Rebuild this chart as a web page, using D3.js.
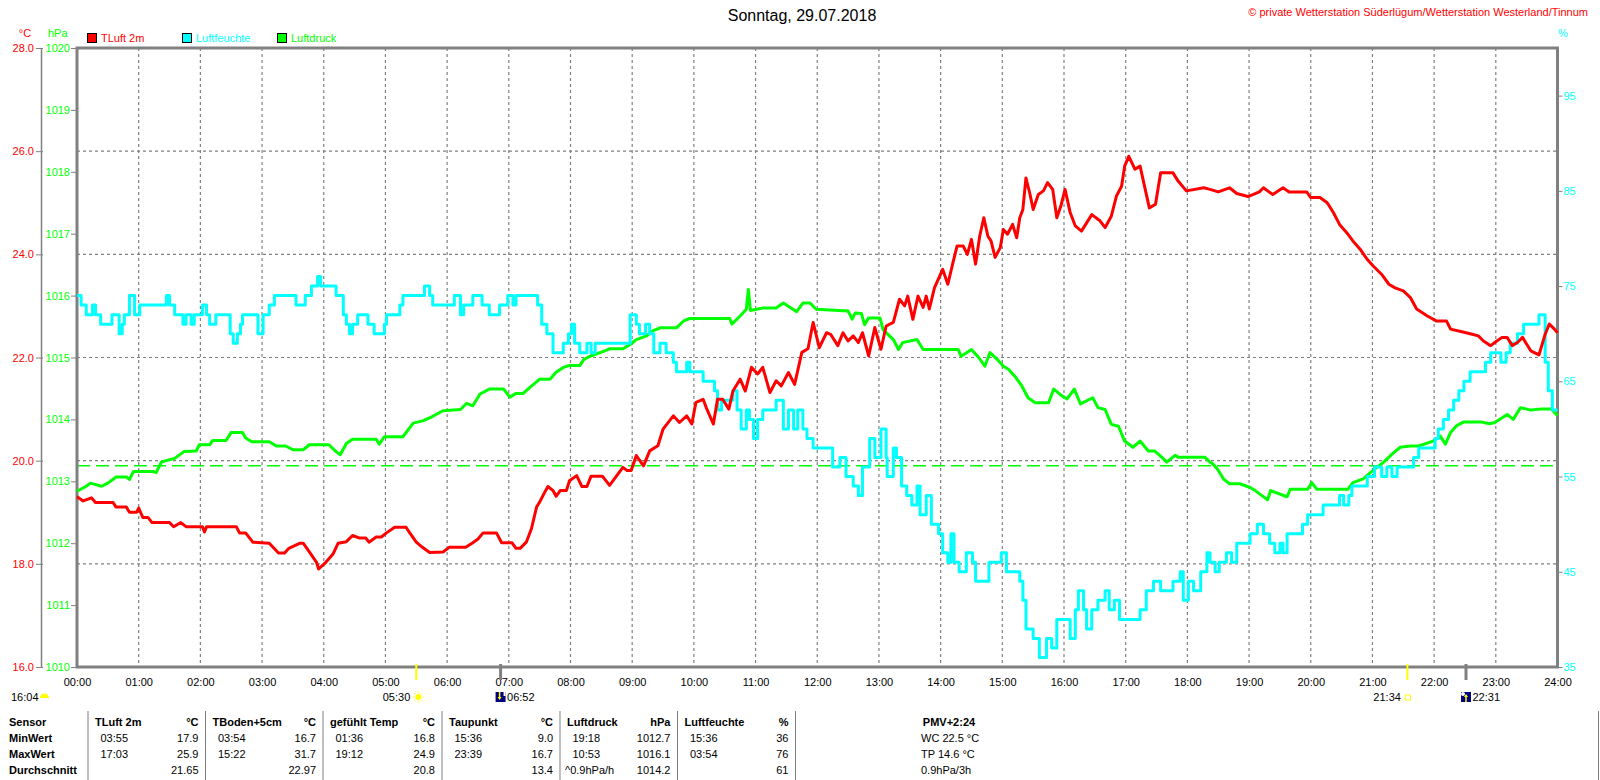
<!DOCTYPE html>
<html>
<head>
<meta charset="utf-8">
<script src="https://cdn.jsdelivr.net/npm/d3@7"></script>
<style>
body { margin: 0; background: #fff; }
text { font-family: "Liberation Sans", Arial, sans-serif; }
</style>
</head>
<body>
<main></main>
<script>
// ---- data ----
var title = "Sonntag, 29.07.2018";
var copyright = "\u00a9 private Wetterstation S\u00fcderl\u00fcgum/Wetterstation Westerland/Tinnum";

var hourTicks = ["00:00","01:00","02:00","03:00","04:00","05:00","06:00","07:00","08:00","09:00","10:00","11:00","12:00",
  "13:00","14:00","15:00","16:00","17:00","18:00","19:00","20:00","21:00","22:00","23:00","24:00"];
var tempTicks = [16, 18, 20, 22, 24, 26, 28];
var pressTicks = [1010, 1011, 1012, 1013, 1014, 1015, 1016, 1017, 1018, 1019, 1020];
var humTicks = [35, 45, 55, 65, 75, 85, 95];
var normalPressure = 1013.25;

var legendItems = ["TLuft 2m", "Luftfeuchte", "Luftdruck"];

// TLuft 2m (°C)
var temperature = [["00:00",19.30],["00:06",19.22],["00:14",19.28],["00:18",19.19],["00:35",19.19],["00:38",19.10],["00:48",19.10],["00:51",19.00],["00:58",19.00],["01:00",19.08],["01:04",18.90],["01:09",18.90],["01:13",18.80],["01:30",18.80],["01:34",18.72],["01:41",18.80],["01:46",18.72],["02:02",18.72],["02:04",18.62],["02:06",18.72],["02:35",18.72],["02:38",18.60],["02:44",18.60],["02:51",18.42],["03:07",18.40],["03:16",18.21],["03:22",18.21],["03:26",18.30],["03:37",18.40],["03:40",18.40],["03:46",18.23],["03:53",18.03],["03:55",17.90],["04:02",18.03],["04:09",18.19],["04:14",18.40],["04:22",18.43],["04:28",18.55],["04:35",18.50],["04:41",18.50],["04:44",18.42],["04:51",18.52],["04:56",18.52],["05:01",18.60],["05:09",18.71],["05:20",18.71],["05:23",18.62],["05:30",18.42],["05:36",18.32],["05:43",18.22],["05:56",18.23],["06:02",18.32],["06:18",18.32],["06:25",18.41],["06:30",18.48],["06:35",18.60],["06:48",18.60],["06:53",18.41],["07:03",18.41],["07:07",18.30],["07:11",18.30],["07:17",18.42],["07:22",18.68],["07:27",19.10],["07:30",19.20],["07:35",19.39],["07:38",19.50],["07:43",19.42],["07:46",19.31],["07:50",19.42],["07:56",19.42],["07:59",19.61],["08:06",19.71],["08:11",19.50],["08:16",19.50],["08:20",19.70],["08:31",19.70],["08:38",19.52],["08:45",19.71],["08:51",19.87],["08:55",19.81],["08:59",19.81],["09:04",20.10],["09:11",19.90],["09:17",20.19],["09:25",20.29],["09:30",20.61],["09:40",20.87],["09:46",20.74],["09:53",20.87],["09:58",20.71],["10:02",21.13],["10:09",21.19],["10:12",21.03],["10:19",20.71],["10:23",21.19],["10:28",21.19],["10:34",21.00],["10:38",21.35],["10:45",21.58],["10:50",21.35],["10:56",21.81],["11:02",21.68],["11:07",21.81],["11:14",21.32],["11:20",21.55],["11:25",21.45],["11:32",21.71],["11:38",21.48],["11:45",22.10],["11:51",22.17],["11:56",22.68],["12:02",22.19],["12:09",22.48],["12:13",22.45],["12:20",22.23],["12:25",22.48],["12:30",22.32],["12:35",22.42],["12:40",22.29],["12:44",22.48],["12:50",22.03],["12:56",22.58],["13:02",22.16],["13:07",22.61],["13:14",22.68],["13:20",23.13],["13:25",23.00],["13:28",23.19],["13:33",22.74],["13:38",23.19],["13:43",22.97],["13:46",23.19],["13:49",22.94],["13:54",23.35],["14:02",23.71],["14:07",23.42],["14:12",23.84],["14:16",24.16],["14:22",24.16],["14:26",24.00],["14:30",24.29],["14:34",23.81],["14:38",24.35],["14:42",24.71],["14:46",24.35],["14:49",24.26],["14:53",23.94],["14:58",24.13],["15:01",24.48],["15:05",24.39],["15:10",24.58],["15:14",24.32],["15:17",24.71],["15:20",24.87],["15:23",25.48],["15:27",25.16],["15:30",24.87],["15:35",25.16],["15:40",25.23],["15:44",25.39],["15:49",25.26],["15:53",24.71],["15:57",24.94],["16:01",25.26],["16:06",24.81],["16:11",24.55],["16:17",24.45],["16:22",24.61],["16:27",24.77],["16:35",24.65],["16:40",24.52],["16:46",24.74],["16:51",25.13],["16:56",25.32],["16:59",25.71],["17:03",25.90],["17:09",25.65],["17:14",25.71],["17:19",25.26],["17:23",24.90],["17:29",24.97],["17:34",25.58],["17:46",25.58],["17:51",25.42],["17:59",25.23],["18:16",25.29],["18:22",25.26],["18:30",25.21],["18:41",25.29],["18:48",25.18],["18:59",25.12],["19:10",25.21],["19:14",25.29],["19:23",25.16],["19:33",25.29],["19:39",25.21],["19:56",25.21],["20:00",25.10],["20:09",25.10],["20:16",25.00],["20:22",24.81],["20:28",24.58],["20:35",24.42],["20:41",24.26],["20:48",24.10],["20:55",23.90],["21:01",23.77],["21:09",23.61],["21:16",23.42],["21:22",23.35],["21:30",23.29],["21:37",23.16],["21:43",22.94],["21:53",22.81],["22:02",22.71],["22:12",22.71],["22:16",22.55],["22:27",22.50],["22:37",22.45],["22:43",22.42],["22:48",22.32],["22:55",22.23],["22:59",22.29],["23:06",22.39],["23:11",22.39],["23:16",22.23],["23:21",22.29],["23:26",22.39],["23:29",22.29],["23:34",22.13],["23:42",22.05],["23:48",22.45],["23:52",22.65],["23:57",22.55],["24:00",22.48]];

// Luftdruck (hPa)
var pressure = [["00:00",1012.84],["00:09",1012.92],["00:13",1012.97],["00:24",1012.92],["00:30",1012.97],["00:38",1013.07],["00:48",1013.07],["00:51",1013.03],["00:55",1013.16],["01:14",1013.16],["01:17",1013.14],["01:22",1013.31],["01:30",1013.35],["01:35",1013.37],["01:44",1013.48],["01:56",1013.49],["01:59",1013.59],["02:09",1013.59],["02:12",1013.66],["02:25",1013.66],["02:30",1013.79],["02:41",1013.79],["02:44",1013.70],["02:50",1013.64],["03:07",1013.64],["03:14",1013.57],["03:23",1013.57],["03:30",1013.51],["03:40",1013.51],["03:46",1013.59],["04:05",1013.59],["04:12",1013.48],["04:16",1013.43],["04:22",1013.61],["04:28",1013.68],["04:51",1013.68],["04:54",1013.60],["04:59",1013.72],["05:17",1013.72],["05:27",1013.94],["05:37",1013.98],["05:46",1014.05],["05:56",1014.14],["06:13",1014.16],["06:19",1014.26],["06:25",1014.22],["06:32",1014.41],["06:41",1014.49],["06:55",1014.49],["07:01",1014.36],["07:07",1014.42],["07:14",1014.42],["07:20",1014.51],["07:30",1014.65],["07:40",1014.65],["07:46",1014.76],["07:53",1014.84],["07:59",1014.87],["08:09",1014.87],["08:13",1014.97],["08:19",1015.02],["08:32",1015.10],["08:38",1015.14],["08:51",1015.14],["08:58",1015.21],["09:04",1015.29],["09:14",1015.35],["09:20",1015.43],["09:27",1015.48],["09:43",1015.48],["09:50",1015.59],["09:56",1015.63],["10:35",1015.63],["10:37",1015.54],["10:45",1015.67],["10:51",1015.78],["10:53",1016.10],["10:55",1015.76],["11:07",1015.80],["11:20",1015.80],["11:27",1015.88],["11:40",1015.74],["11:46",1015.88],["11:53",1015.88],["11:59",1015.78],["12:30",1015.75],["12:34",1015.62],["12:37",1015.72],["12:43",1015.71],["12:46",1015.53],["12:50",1015.64],["13:01",1015.64],["13:04",1015.45],["13:14",1015.29],["13:19",1015.13],["13:23",1015.24],["13:37",1015.29],["13:43",1015.13],["14:17",1015.13],["14:20",1015.02],["14:30",1015.13],["14:37",1015.00],["14:43",1014.86],["14:48",1015.08],["14:55",1014.97],["15:01",1014.86],["15:06",1014.81],["15:13",1014.68],["15:19",1014.54],["15:25",1014.35],["15:32",1014.27],["15:45",1014.27],["15:50",1014.49],["15:58",1014.38],["16:03",1014.33],["16:10",1014.49],["16:16",1014.25],["16:28",1014.35],["16:33",1014.19],["16:40",1014.16],["16:46",1013.92],["16:53",1013.89],["16:59",1013.65],["17:07",1013.55],["17:14",1013.65],["17:22",1013.49],["17:28",1013.49],["17:35",1013.39],["17:40",1013.31],["17:48",1013.42],["17:51",1013.39],["18:17",1013.39],["18:22",1013.31],["18:25",1013.28],["18:30",1013.18],["18:35",1013.04],["18:41",1012.96],["18:51",1012.96],["19:01",1012.90],["19:06",1012.85],["19:18",1012.70],["19:21",1012.85],["19:37",1012.75],["19:40",1012.87],["19:57",1012.87],["20:01",1012.98],["20:06",1012.87],["20:36",1012.87],["20:41",1012.98],["20:51",1013.04],["20:58",1013.14],["21:04",1013.22],["21:11",1013.31],["21:19",1013.44],["21:27",1013.55],["21:37",1013.57],["21:45",1013.57],["21:59",1013.65],["22:06",1013.73],["22:11",1013.60],["22:16",1013.79],["22:22",1013.90],["22:29",1013.96],["22:45",1013.96],["22:54",1013.93],["22:59",1013.95],["23:11",1014.08],["23:17",1014.00],["23:24",1014.19],["23:34",1014.15],["23:45",1014.17],["23:54",1014.17],["24:00",1014.06]];

// Luftfeuchte (%)
var humidity = [["00:00",74],["00:04",73],["00:09",72],["00:15",73],["00:18",72],["00:23",71],["00:32",71],["00:34",72],["00:38",72],["00:41",70],["00:44",71],["00:46",72],["00:51",74],["00:56",72],["01:01",73],["01:25",73],["01:27",74],["01:30",73],["01:35",72],["01:43",71],["01:46",72],["01:51",71],["01:54",72],["02:02",73],["02:06",72],["02:09",71],["02:15",72],["02:25",72],["02:29",70],["02:32",69],["02:36",70],["02:39",71],["02:41",72],["02:51",72],["02:56",70],["03:01",72],["03:07",73],["03:12",74],["03:30",74],["03:33",73],["03:39",73],["03:42",74],["03:48",75],["03:54",76],["03:57",75],["04:09",75],["04:12",74],["04:19",72],["04:22",71],["04:25",70],["04:28",71],["04:33",72],["04:40",72],["04:43",71],["04:49",70],["04:56",70],["04:59",71],["05:01",72],["05:10",72],["05:14",73],["05:17",74],["05:33",74],["05:38",75],["05:43",74],["05:46",73],["05:58",73],["06:07",74],["06:13",72],["06:16",73],["06:25",74],["06:34",73],["06:41",72],["06:51",73],["06:59",74],["07:04",73],["07:07",74],["07:25",74],["07:28",73],["07:32",71],["07:37",70],["07:43",68],["07:48",68],["07:53",69],["07:58",70],["08:01",71],["08:04",69],["08:09",68],["08:16",69],["08:20",68],["08:24",69],["08:55",69],["08:58",72],["09:04",71],["09:07",70],["09:13",71],["09:17",70],["09:21",68],["09:27",69],["09:33",68],["09:40",67],["09:43",66],["09:53",67],["09:56",66],["10:02",66],["10:09",65],["10:20",64],["10:23",62],["10:27",63],["10:35",63],["10:38",64],["10:42",62],["10:46",60],["10:51",62],["10:54",61],["10:58",59],["11:02",61],["11:07",62],["11:17",62],["11:20",63],["11:27",60],["11:32",62],["11:37",60],["11:41",62],["11:46",60],["11:50",59],["11:56",58],["12:12",58],["12:15",56],["12:22",57],["12:28",55],["12:33",55],["12:35",54],["12:40",53],["12:44",56],["12:51",59],["12:56",57],["13:02",60],["13:07",57],["13:08",55],["13:14",58],["13:17",57],["13:22",54],["13:27",53],["13:32",52],["13:37",54],["13:40",51],["13:46",53],["13:51",50],["13:58",49],["14:02",47],["14:07",46],["14:10",49],["14:13",46],["14:18",45],["14:25",47],["14:31",46],["14:34",44],["14:41",44],["14:47",46],["14:53",46],["14:59",47],["15:04",45],["15:11",45],["15:17",44],["15:20",42],["15:23",39],["15:30",38],["15:36",36],["15:43",38],["15:48",37],["15:53",40],["16:01",40],["16:06",38],["16:11",41],["16:14",43],["16:19",41],["16:22",39],["16:27",41],["16:33",42],["16:40",43],["16:44",41],["16:49",42],["16:54",40],["17:04",40],["17:14",41],["17:20",43],["17:27",44],["17:34",43],["17:40",43],["17:46",44],["17:53",45],["17:56",42],["18:01",44],["18:06",43],["18:13",45],["18:19",47],["18:22",46],["18:27",45],["18:31",46],["18:38",47],["18:43",46],["18:48",48],["19:01",49],["19:08",50],["19:14",49],["19:20",48],["19:25",47],["19:30",48],["19:33",47],["19:37",49],["19:49",49],["19:52",50],["19:57",51],["20:09",51],["20:12",52],["20:25",52],["20:28",53],["20:32",52],["20:37",53],["20:40",54],["20:51",54],["20:55",55],["21:02",56],["21:09",55],["21:14",56],["21:19",55],["21:24",56],["21:37",56],["21:40",57],["21:45",58],["21:56",58],["22:01",59],["22:04",60],["22:09",61],["22:14",62],["22:19",63],["22:24",64],["22:29",65],["22:35",66],["22:45",66],["22:50",67],["22:55",68],["23:02",68],["23:05",67],["23:10",68],["23:14",69],["23:21",70],["23:27",71],["23:34",71],["23:42",72],["23:46",72],["23:48",67],["23:51",64],["23:55",62],["24:00",62]];

// sun / moon markers under the time axis
var dayLength = "16:04";
var sunrise = "05:30", sunset = "21:34";
var moonset = "06:52", moonrise = "22:31";

// summary table
var tableHead = [["Sensor",""],["TLuft 2m","\u00b0C"],["TBoden+5cm","\u00b0C"],["gef\u00fchlt Temp","\u00b0C"],["Taupunkt","\u00b0C"],["Luftdruck","hPa"],["Luftfeuchte","%"]];
var rowNames = ["MinWert", "MaxWert", "Durchschnitt"];
var minTimes = ["03:55","03:54","01:36","15:36","19:18","15:36"];
var minValues = ["17.9","16.7","16.8","9.0","1012.7","36"];
var maxTimes = ["17:03","15:22","19:12","23:39","10:53","03:54"];
var maxValues = ["25.9","31.7","24.9","16.7","1016.1","76"];
var avgNotes = ["","","","","^0.9hPa/h",""];
var avgValues = ["21.65","22.97","20.8","13.4","1014.2","61"];
var extraLines = ["PMV+2:24","WC 22.5 \u00b0C","TP 14.6 \u00b0C","0.9hPa/3h"];

// ---- layout ----
var w = 1600, h = 780;
var plotLeft = 77, plotRight = 1557.5, plotTop = 48, plotBottom = 667;
var RED = "#ff0000", CYAN = "#00ffff", GREEN = "#00ff00", GRID = "#808080";

function mins(s) { var p = s.split(":"); return +p[0] * 60 + +p[1]; }

var svg = d3.select("main").append("svg").attr("width", w).attr("height", h);

// scales
var xScale = d3.scaleLinear().domain([0, 1440]).range([plotLeft, plotRight]);
var yTemp = d3.scaleLinear().domain([16, 28]).range([plotBottom, plotTop]);
var yPress = d3.scaleLinear().domain([1010, 1020]).range([plotBottom, plotTop]);
var yHum = d3.scaleLinear().domain([35, 100]).range([plotBottom, plotTop]);

// title + copyright
svg.append("text").attr("x", 802).attr("y", 21).attr("text-anchor", "middle")
  .attr("font-size", "16px").attr("fill", "#000").text(title);
svg.append("text").attr("x", 1588).attr("y", 16).attr("text-anchor", "end")
  .attr("font-size", "11px").attr("fill", RED).text(copyright);

// unit labels
svg.append("text").attr("x", 25).attr("y", 37).attr("text-anchor", "middle").attr("font-size", "11px").attr("fill", RED).text("\u00b0C");
svg.append("text").attr("x", 48).attr("y", 37).attr("font-size", "11px").attr("fill", GREEN).text("hPa");
svg.append("text").attr("x", 1558).attr("y", 37).attr("font-size", "11px").attr("fill", CYAN).text("%");

// legend
var legendColors = [RED, CYAN, GREEN];
var legendX = [87, 182, 277];
legendItems.forEach(function (name, i) {
  svg.append("rect").attr("x", legendX[i] + 0.5).attr("y", 33.5).attr("width", 9).attr("height", 9)
    .attr("fill", legendColors[i]).attr("stroke", "#000").attr("stroke-width", 1);
  svg.append("text").attr("x", legendX[i] + 14).attr("y", 42).attr("font-size", "11px")
    .attr("fill", legendColors[i]).text(name);
});

// grid
svg.append("g").selectAll("line").data(hourTicks.slice(1, -1)).enter().append("line")
  .attr("x1", function (d) { return xScale(mins(d)); }).attr("x2", function (d) { return xScale(mins(d)); })
  .attr("y1", plotTop).attr("y2", plotBottom)
  .attr("stroke", GRID).attr("stroke-width", 1.2).attr("stroke-dasharray", "3,3");
svg.append("g").selectAll("line").data(tempTicks.slice(1, -1)).enter().append("line")
  .attr("x1", plotLeft).attr("x2", plotRight)
  .attr("y1", function (d) { return yTemp(d); }).attr("y2", function (d) { return yTemp(d); })
  .attr("stroke", GRID).attr("stroke-width", 1.2).attr("stroke-dasharray", "3,3");

// normal pressure line
svg.append("line").attr("x1", plotLeft).attr("x2", plotRight)
  .attr("y1", yPress(normalPressure)).attr("y2", yPress(normalPressure))
  .attr("stroke", GREEN).attr("stroke-width", 1.5).attr("stroke-dasharray", "13,6");

// axes
var tempAxis = d3.axisLeft(yTemp).tickValues(tempTicks).tickFormat(d3.format(".1f")).tickSize(5).tickPadding(2).tickSizeOuter(0);
var gT = svg.append("g").attr("transform", "translate(41,0)").call(tempAxis);
gT.select(".domain").attr("stroke", GRID).attr("stroke-width", 1.5);
gT.selectAll(".tick line").attr("stroke", GRID).attr("x1", 2);
gT.selectAll("text").attr("fill", RED).attr("font-size", "11px").attr("font-family", "Liberation Sans, Arial, sans-serif");

var pressAxis = d3.axisLeft(yPress).tickValues(pressTicks).tickFormat(d3.format("d")).tickSize(6).tickPadding(1);
var gP = svg.append("g").attr("transform", "translate(" + plotLeft + ",0)").call(pressAxis);
gP.select(".domain").remove();
gP.selectAll(".tick line").attr("stroke", GRID);
gP.selectAll("text").attr("fill", GREEN).attr("font-size", "11px").attr("font-family", "Liberation Sans, Arial, sans-serif");

var humAxis = d3.axisRight(yHum).tickValues(humTicks).tickSize(5).tickPadding(1);
var gH = svg.append("g").attr("transform", "translate(" + plotRight + ",0)").call(humAxis);
gH.select(".domain").remove();
gH.selectAll(".tick line").attr("stroke", GRID);
gH.selectAll("text").attr("fill", CYAN).attr("font-size", "11px").attr("font-family", "Liberation Sans, Arial, sans-serif");

var xAxis = d3.axisBottom(xScale).tickValues(hourTicks.map(mins))
  .tickFormat(function (m) { return hourTicks[m / 60]; }).tickSize(0).tickPadding(11);
var gX = svg.append("g").attr("transform", "translate(0," + plotBottom + ")").call(xAxis);
gX.select(".domain").remove();
gX.selectAll("text").attr("fill", "#000").attr("font-size", "11px").attr("font-family", "Liberation Sans, Arial, sans-serif");

// frame
svg.append("rect").attr("x", plotLeft).attr("y", plotTop)
  .attr("width", plotRight - plotLeft).attr("height", plotBottom - plotTop)
  .attr("fill", "none").attr("stroke", GRID).attr("stroke-width", 3);

// series lines
var pressLine = d3.line().x(function (d) { return xScale(mins(d[0])); }).y(function (d) { return yPress(d[1]); });
var humLine = d3.line().curve(d3.curveStepAfter).x(function (d) { return xScale(mins(d[0])); }).y(function (d) { return yHum(d[1]); });
var tempLine = d3.line().x(function (d) { return xScale(mins(d[0])); }).y(function (d) { return yTemp(d[1]); });

svg.append("path").datum(pressure).attr("d", pressLine).attr("fill", "none")
  .attr("stroke", GREEN).attr("stroke-width", 3).attr("stroke-linejoin", "round");
svg.append("path").datum(humidity).attr("d", humLine).attr("fill", "none")
  .attr("stroke", CYAN).attr("stroke-width", 3).attr("stroke-linejoin", "round");
svg.append("path").datum(temperature).attr("d", tempLine).attr("fill", "none")
  .attr("stroke", RED).attr("stroke-width", 3).attr("stroke-linejoin", "round");

// sun and moon markers
function tick(t, color, width) {
  svg.append("line").attr("x1", xScale(mins(t))).attr("x2", xScale(mins(t)))
    .attr("y1", plotBottom - 3).attr("y2", plotBottom + 13).attr("stroke", color).attr("stroke-width", width);
}
function smallText(x, y, s, anchor) {
  svg.append("text").attr("x", x).attr("y", y).attr("text-anchor", anchor || "start")
    .attr("font-size", "11px").attr("fill", "#000").text(s);
}
tick(sunrise, "#ffff00", 2);
tick(sunset, "#ffff00", 2);
tick(moonset, GRID, 3);
tick(moonrise, GRID, 3);

// day length with half sun
smallText(11, 701, dayLength);
svg.append("path").attr("d", "M40,698 A4.5,4.5 0 0 1 49,698 Z").attr("fill", "#ffff00");

// sunrise: label + sun
var sx = xScale(mins(sunrise));
smallText(sx - 6, 701, sunrise, "end");
svg.append("circle").attr("cx", sx + 2).attr("cy", 697).attr("r", 3).attr("fill", "#ffff00");
d3.range(8).forEach(function (i) {
  var a = i * Math.PI / 4;
  svg.append("line").attr("x1", sx + 2 + Math.cos(a) * 4).attr("y1", 697 + Math.sin(a) * 4)
    .attr("x2", sx + 2 + Math.cos(a) * 5.5).attr("y2", 697 + Math.sin(a) * 5.5)
    .attr("stroke", "#ffff00").attr("stroke-width", 1);
});

// sunset: label + small square
var ssx = xScale(mins(sunset));
smallText(ssx - 6.5, 701, sunset, "end");
svg.append("rect").attr("x", ssx - 2).attr("y", 695).attr("width", 5).attr("height", 5)
  .attr("fill", "none").attr("stroke", "#ffff00").attr("stroke-width", 1);

// moon icons
function moonIcon(t, up) {
  var mx = xScale(mins(t));
  svg.append("rect").attr("x", mx - 5).attr("y", 692).attr("width", 10).attr("height", 10).attr("fill", "#000080");
  if (up) {
    svg.append("circle").attr("cx", mx - 3).attr("cy", 694).attr("r", 2).attr("fill", "#fff");
    svg.append("path").attr("d", "M" + (mx - 2) + ",697 L" + (mx + 2) + ",697 L" + mx + ",694 Z").attr("fill", "#ffff00");
    svg.append("line").attr("x1", mx).attr("x2", mx).attr("y1", 696).attr("y2", 702).attr("stroke", "#ffff00").attr("stroke-width", 1.5);
  } else {
    svg.append("path").attr("d", "M" + (mx - 3) + ",697 L" + (mx + 1) + ",697 L" + (mx - 1) + ",700 Z").attr("fill", "#ffff00");
    svg.append("line").attr("x1", mx - 1).attr("x2", mx - 1).attr("y1", 692).attr("y2", 698).attr("stroke", "#ffff00").attr("stroke-width", 1.5);
    svg.append("rect").attr("x", mx + 3).attr("y", 692).attr("width", 2).attr("height", 4).attr("fill", "#fff");
  }
  smallText(mx + 6.5, 701, t);
}
moonIcon(moonset, false);
moonIcon(moonrise, true);

// ---- summary table ----
var seps = [88, 205.5, 323, 442, 560, 677.5, 795.5, 1598.5];
var rowY = [726, 742, 758, 774];
var table = svg.append("g");
seps.forEach(function (sx2) {
  table.append("line").attr("x1", sx2).attr("x2", sx2).attr("y1", 711).attr("y2", 780)
    .attr("stroke", GRID).attr("stroke-width", 1);
});
function cell(x, y, s, bold, anchor) {
  table.append("text").attr("x", x).attr("y", y).attr("text-anchor", anchor || "start")
    .attr("font-size", "11px").attr("font-weight", bold ? "bold" : "normal").attr("fill", "#000").text(s);
}
cell(9, rowY[0], tableHead[0][0], true);
rowNames.forEach(function (r, i) { cell(9, rowY[i + 1], r, true); });
for (var c = 1; c < tableHead.length; c++) {
  var l = seps[c - 1], r = seps[c];
  cell(l + 7, rowY[0], tableHead[c][0], true);
  cell(r - 7, rowY[0], tableHead[c][1], true, "end");
  cell(l + 12.5, rowY[1], minTimes[c - 1]);
  cell(r - 7, rowY[1], minValues[c - 1], false, "end");
  cell(l + 12.5, rowY[2], maxTimes[c - 1]);
  cell(r - 7, rowY[2], maxValues[c - 1], false, "end");
  if (avgNotes[c - 1]) cell(l + 5, rowY[3], avgNotes[c - 1]);
  cell(r - 7, rowY[3], avgValues[c - 1], false, "end");
}
cell(949, rowY[0], extraLines[0], true, "middle");
cell(921, rowY[1], extraLines[1]);
cell(921, rowY[2], extraLines[2]);
cell(921, rowY[3], extraLines[3]);
</script>
</body>
</html>
